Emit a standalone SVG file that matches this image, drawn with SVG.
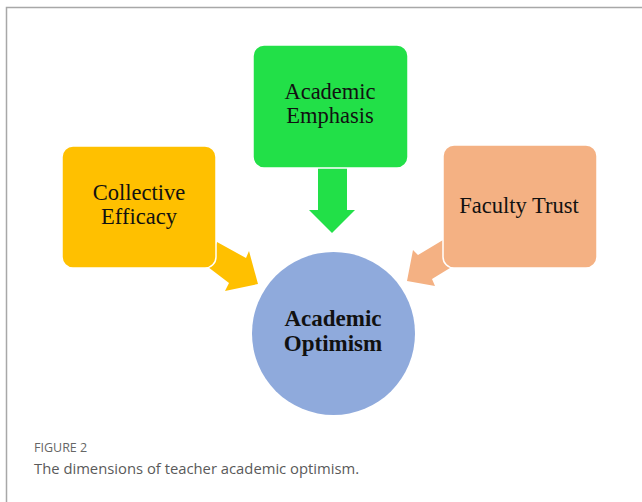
<svg xmlns="http://www.w3.org/2000/svg" width="642" height="502" viewBox="0 0 642 502">
<style>
.box{stroke:#ffffff;stroke-width:1.5}
.t{font-family:"Liberation Serif","Times New Roman",serif;font-size:22.5px;fill:#111;text-anchor:middle}
.b{font-weight:bold;font-size:23px}
.cap1{font-family:"Open Sans","Noto Sans",sans-serif;font-size:12.5px;fill:#666}
.cap2{font-family:"Open Sans","Noto Sans",sans-serif;font-size:14.8px;fill:#5a5a5a}
</style>
<rect width="642" height="502" fill="#ffffff"/>
<path d="M6.5 502 V7.5 H642" fill="none" stroke="#a8a8a8" stroke-width="1.5"/>
<g id="connectors">
  <polygon points="217,242 246,258 249,251 258,284 225,291 229,283 208,267" fill="#FFC000"/>
  <polygon points="318,165 347,165 347,210 355,210 332,233 309,210 318,210" fill="#22E048"/>
  <polygon points="443,240 418,255 413,250 407,281 435,286 432,279 450,268" fill="#F4B183"/>
</g>
<g id="collective-efficacy">
  <rect class="box" x="62" y="146" width="154" height="122" rx="11" fill="#FFC000"/>
  <text class="t" x="139" y="200">Collective</text>
  <text class="t" x="139" y="224">Efficacy</text>
</g>
<g id="academic-emphasis">
  <rect class="box" x="253" y="45" width="155" height="123" rx="11" fill="#22E048"/>
  <text class="t" x="330" y="99">Academic</text>
  <text class="t" x="330" y="123">Emphasis</text>
</g>
<g id="faculty-trust">
  <rect class="box" x="443" y="145" width="154" height="123" rx="11" fill="#F4B183"/>
  <text class="t" x="519" y="213">Faculty Trust</text>
</g>
<g id="academic-optimism">
  <circle cx="333.5" cy="333.5" r="81.5" fill="#8FAADC"/>
  <text class="t b" x="333" y="326">Academic</text>
  <text class="t b" x="333" y="351">Optimism</text>
</g>
<text class="cap1" x="34" y="452">FIGURE 2</text>
<text class="cap2" x="34" y="474">The dimensions of teacher academic optimism.</text>
</svg>
